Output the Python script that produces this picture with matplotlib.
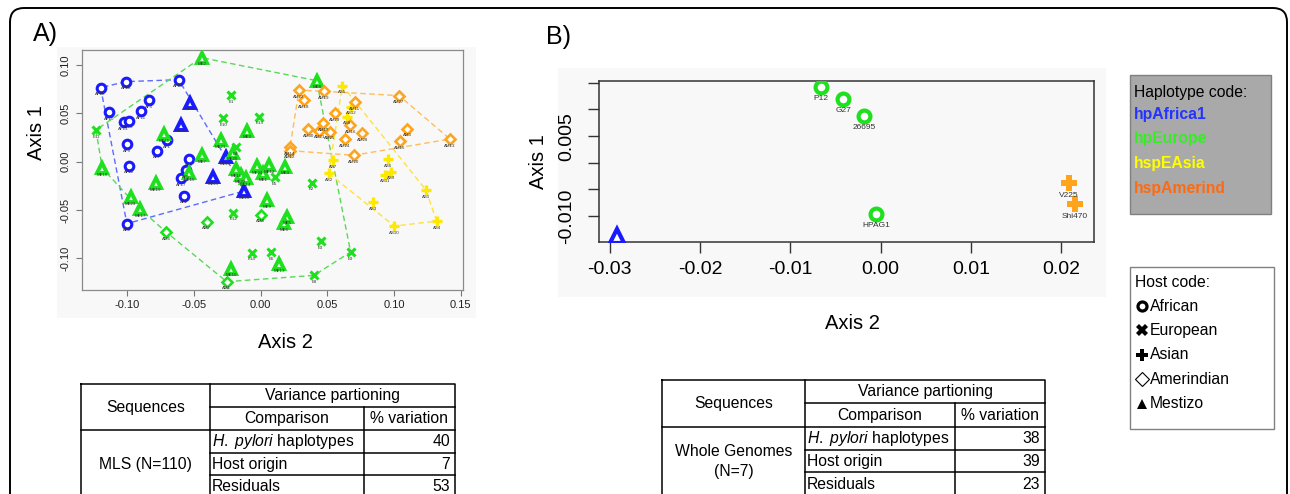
import matplotlib
matplotlib.use("Agg")
import matplotlib.pyplot as plt
from matplotlib.patches import FancyBboxPatch, Rectangle

plt.rcParams["font.family"] = ["Liberation Sans", "DejaVu Sans"]
plt.rcParams["mathtext.fontset"] = "custom"
plt.rcParams["mathtext.it"] = "Liberation Sans:italic"
plt.rcParams["mathtext.rm"] = "Liberation Sans"

W, H = 1290, 494

# ---- panel A: MLS data, (label, axis 2, axis 1) ----
AFRICA1_AFRICAN = [
    ("AF16", -0.1200, 0.0766), ("AF18", -0.1008, 0.0828), ("AF19", -0.0615, 0.0848),
    ("AF10", -0.1138, 0.0510), ("AF3", -0.0840, 0.0634), ("AF11", -0.0895, 0.0524),
    ("AF13", -0.1028, 0.0407), ("AF15", -0.0990, 0.0424), ("AF9", -0.1005, 0.0179),
    ("AF1", -0.0705, 0.0224), ("AF7", -0.0775, 0.0114), ("AF12", -0.0985, -0.0041),
    ("AF8", -0.0540, 0.0031), ("AF5", -0.0558, -0.0090), ("AF17", -0.0598, -0.0169),
    ("AF2", -0.0573, -0.0352), ("AF6", -0.1003, -0.0641),
]
AFRICA1_MESTIZO = [
    ("ME30", -0.0528, 0.0610), ("ME28", -0.0600, 0.0383), ("ME27", -0.0263, 0.0045),
    ("ME29", -0.0355, -0.0159), ("ME26", -0.0123, -0.0303),
]
EUROPE_MESTIZO = [
    ("ME2", -0.0443, 0.1076), ("ME8", 0.0420, 0.0838), ("ME11", -0.0723, 0.0286),
    ("ME21", -0.0300, 0.0224), ("ME3", -0.0103, 0.0321), ("ME20", -0.0210, 0.0093),
    ("ME7", -0.0443, 0.0069), ("ME18", -0.1188, -0.0066), ("ME19", -0.0788, -0.0224),
    ("ME23", -0.0975, -0.0369), ("ME17", -0.0905, -0.0490), ("ME16", -0.0185, -0.0079),
    ("ME22", -0.0150, -0.0138), ("ME14", -0.0113, -0.0172), ("ME15", -0.0538, -0.0117),
    ("ME24", -0.0028, -0.0045), ("ME1", 0.0020, -0.0121), ("ME12", 0.0063, -0.0038),
    ("ME4", 0.0185, -0.0052), ("ME9", 0.0048, -0.0400), ("ME5", 0.0195, -0.0569),
    ("ME6", 0.0178, -0.0638), ("ME13", 0.0140, -0.1059), ("ME10", -0.0223, -0.1107),
]
EUROPE_EUROPEAN = [
    ("E11", -0.1235, 0.0328), ("E1", -0.0220, 0.0686), ("E13", -0.0010, 0.0466),
    ("E10", -0.0280, 0.0452), ("E4", -0.0188, 0.0152), ("E5", 0.0105, -0.0162),
    ("E2", 0.0383, -0.0217), ("E12", -0.0205, -0.0528), ("E3", 0.0450, -0.0821),
    ("E14", -0.0065, -0.0941), ("E6", 0.0078, -0.0934), ("E9", 0.0675, -0.0934),
    ("E8", 0.0400, -0.1176),
]
EUROPE_AMERINDIAN = [
    ("AM7", -0.0403, -0.0621), ("AM6", -0.0708, -0.0728),
    ("AM8", 0.0000, -0.0548), ("AM1", -0.0255, -0.1241),
]
EASIA_ASIAN = [
    ("AS5", 0.0613, 0.0786), ("AS12", 0.0678, 0.0569), ("AS8", 0.0650, 0.0466),
    ("AS7", 0.0545, 0.0017), ("AS2", 0.0510, -0.0121), ("AS6", 0.0958, 0.0028),
    ("AS9", 0.0975, -0.0103), ("AS11", 0.0933, -0.0134), ("AS1", 0.1240, -0.0293),
    ("AS3", 0.0845, -0.0421), ("AS10", 0.1003, -0.0666), ("AS4", 0.1320, -0.0614),
]
AMERIND_AMERINDIAN = [
    ("AM22", 0.0288, 0.0741), ("AM18", 0.0325, 0.0638), ("AM19", 0.0473, 0.0728),
    ("AM27", 0.1038, 0.0683), ("AM11", 0.0708, 0.0614), ("AM29", 0.0558, 0.0500),
    ("AM17", 0.0470, 0.0397), ("AM16", 0.0673, 0.0376), ("AM30", 0.0358, 0.0334),
    ("AM21", 0.0440, 0.0321), ("AM25", 0.0520, 0.0310), ("AM28", 0.0763, 0.0293),
    ("AM24", 0.0630, 0.0231), ("AM3", 0.1098, 0.0341), ("AM15", 0.1045, 0.0210),
    ("AM13", 0.1420, 0.0234), ("AM14", 0.0220, 0.0148), ("AM12", 0.0220, 0.0114),
    ("AM20", 0.0698, 0.0066),
]

# ---- panel B: whole genomes ----
GENOME_EUROPE = [("P12", -0.00664, 0.01429), ("G27", -0.00414, 0.01203),
                 ("26695", -0.00181, 0.00883), ("HPAG1", -0.00048, -0.00959)]
GENOME_AMERIND = [("V225", 0.02085, -0.00382), ("Shi470", 0.02152, -0.00782)]
GENOME_AFRICA1 = [("", -0.02916, -0.01387)]

A_XTICKS = [-0.10, -0.05, 0.00, 0.05, 0.10, 0.15]
A_YTICKS = [-0.10, -0.05, 0.00, 0.05, 0.10]
B_XTICKS = [-0.03, -0.02, -0.01, 0.00, 0.01, 0.02]
B_YTICKS = [0.015, 0.010, 0.005, 0.000, -0.005, -0.010]
B_YTICK_LABELS = ["", "", "0.005", "", "", "-0.010"]

# ---- tables ----
TABLE_COMPARISONS = [r"$\mathit{H.\ pylori}$ haplotypes", "Host origin", "Residuals"]
MLS_VARIATION = [40, 7, 53]
GENOME_VARIATION = [38, 39, 23]

HAPLOTYPES = ["hpAfrica1", "hpEurope", "hspEAsia", "hspAmerind"]
HOSTS = ["African", "European", "Asian", "Amerindian", "Mestizo"]

BLUE, GREEN, YELLOW, ORANGE = "#1a1aff", "#1ee01e", "#ffe800", "#ffa41c"
HULL = {BLUE: "#5c6cff", GREEN: "#5ad85a", YELLOW: "#ffe23a", ORANGE: "#ffbd5c"}
LEGEND_COLORS = ["#2233ff", "#33ee22", "#ffff00", "#ff6a10"]


def convex_hull(points):
    pts = sorted(set(points))

    def cross(o, a, b):
        return (a[0] - o[0]) * (b[1] - o[1]) - (a[1] - o[1]) * (b[0] - o[0])

    lower, upper = [], []
    for p in pts:
        while len(lower) >= 2 and cross(lower[-2], lower[-1], p) <= 0:
            lower.pop()
        lower.append(p)
    for p in reversed(pts):
        while len(upper) >= 2 and cross(upper[-2], upper[-1], p) <= 0:
            upper.pop()
        upper.append(p)
    return lower[:-1] + upper[:-1]


def draw_hull(ax, groups, color):
    pts = [(x, y) for g in groups for _, x, y in g]
    hull = convex_hull(pts)
    hull.append(hull[0])
    ax.plot([p[0] for p in hull], [p[1] for p in hull], ls=(0, (4, 2.5)),
            lw=1.0, color=HULL[color], zorder=2)


def draw_points(ax, group, color, style, lab_size, lab_off):
    xs = [x for _, x, _ in group]
    ys = [y for _, _, y in group]
    ax.plot(xs, ys, ls="none", color=color, mec=color, zorder=3, **style)
    for lab, x, y in group:
        if lab:
            ax.annotate(lab, (x, y), xytext=(0, -lab_off), textcoords="offset points",
                        ha="center", va="center", fontsize=lab_size, color="#333333",
                        zorder=4)


fig = plt.figure(figsize=(W / 100, H / 100), dpi=100)
canvas = fig.add_axes([0, 0, 1, 1], zorder=0)
canvas.set_xlim(0, W)
canvas.set_ylim(H, 0)
canvas.axis("off")


def px_axes(left, top, right, bottom):
    return fig.add_axes([left / W, 1 - bottom / H, (right - left) / W, (bottom - top) / H],
                        zorder=1)


# outer frame and light plot backgrounds
canvas.add_patch(FancyBboxPatch((10, 8), 1277, 540, boxstyle="round,pad=0,rounding_size=14",
                                fc="white", ec="black", lw=1.4))
canvas.add_patch(Rectangle((57, 47), 419, 271, fc="#f8f8f8", ec="none"))
canvas.add_patch(Rectangle((558, 68), 548, 229, fc="#f8f8f8", ec="none"))

# ---------------- panel A ----------------
axA = px_axes(81.7, 50, 463.3, 290)
axA.set_facecolor("#f8f8f8")
axA.set_xlim(-0.1342, 0.152)
axA.set_ylim(-0.1327, 0.1155)

SMALL = dict(circle=dict(marker="o", ms=6.2, mew=2.2, mfc="white"),
             tri=dict(marker="^", ms=6.6, mew=2.8, mfc="#e8ffe8"),
             cross=dict(marker="x", ms=5.2, mew=2.2),
             plus=dict(marker="+", ms=7.5, mew=2.4),
             diamond=dict(marker="D", ms=5.0, mew=1.9, mfc="white"))

draw_hull(axA, [AFRICA1_AFRICAN, AFRICA1_MESTIZO], BLUE)
draw_hull(axA, [EUROPE_MESTIZO, EUROPE_EUROPEAN, EUROPE_AMERINDIAN], GREEN)
draw_hull(axA, [EASIA_ASIAN], YELLOW)
draw_hull(axA, [AMERIND_AMERINDIAN], ORANGE)

for group, color, style in [
    (AFRICA1_AFRICAN, BLUE, "circle"), (AFRICA1_MESTIZO, BLUE, "tri"),
    (EUROPE_MESTIZO, GREEN, "tri"), (EUROPE_EUROPEAN, GREEN, "cross"),
    (EUROPE_AMERINDIAN, GREEN, "diamond"), (EASIA_ASIAN, YELLOW, "plus"),
    (AMERIND_AMERINDIAN, ORANGE, "diamond"),
]:
    draw_points(axA, group, color, SMALL[style], 3.2, 4.8)

axA.set_xticks(A_XTICKS)
axA.set_xticklabels([f"{t:.2f}" for t in A_XTICKS])
axA.set_yticks(A_YTICKS)
axA.set_yticklabels([f"{t:.2f}" for t in A_YTICKS], rotation=90, va="center")
axA.tick_params(length=4.5, width=0.8, color="#777777", labelsize=8, labelcolor="#222222",
                pad=3)
axA.tick_params(axis="y", pad=3.5)
for sp in axA.spines.values():
    sp.set_color("#8a8a8a")
    sp.set_linewidth(0.9)

# ---------------- panel B ----------------
axB = px_axes(598.5, 80.7, 1094, 241.7)
axB.set_facecolor("#f8f8f8")
axB.set_xlim(-0.03125, 0.02362)
axB.set_ylim(-0.01485, 0.01541)

BIG = dict(circle=dict(marker="o", ms=8.5, mew=3.0, mfc="white"),
           tri=dict(marker="^", ms=10, mew=3.0, mfc="white"),
           plus=dict(marker="P", ms=11, mew=0))

draw_points(axB, GENOME_EUROPE, GREEN, BIG["circle"], 6, 8.8)
draw_points(axB, GENOME_AMERIND, ORANGE, BIG["plus"], 6, 8.8)
draw_points(axB, GENOME_AFRICA1, BLUE, BIG["tri"], 6, 8.8)

axB.set_xticks(B_XTICKS)
axB.set_xticklabels([f"{t:.2f}" for t in B_XTICKS])
axB.tick_params(axis="x", length=8, width=1, color="#333333", labelsize=14, pad=6)
axB.set_yticks(B_YTICKS)
axB.set_yticklabels(B_YTICK_LABELS, rotation=90, va="center")
axB.tick_params(axis="y", length=8, width=1, color="#333333", labelsize=14, pad=9)
for sp in axB.spines.values():
    sp.set_color("#333333")
    sp.set_linewidth(1.1)

# ---------------- titles and axis labels ----------------
canvas.text(45, 34, "A)", fontsize=18, ha="center", va="center")
canvas.text(558, 37, "B)", fontsize=18, ha="center", va="center")
canvas.text(36, 133, "Axis 1", fontsize=14.5, rotation=90, ha="center", va="center")
canvas.text(285, 342, "Axis 2", fontsize=14.5, ha="center", va="center")
canvas.text(538, 162, "Axis 1", fontsize=14.5, rotation=90, ha="center", va="center")
canvas.text(852, 323, "Axis 2", fontsize=14.5, ha="center", va="center")

# ---------------- legends ----------------
canvas.add_patch(Rectangle((1130, 75), 141, 139, fc="#a9a9a9", ec="#808080", lw=1))
canvas.text(1134, 92, "Haplotype code:", fontsize=11.3, va="center")
for i, (name, col) in enumerate(zip(HAPLOTYPES, LEGEND_COLORS)):
    canvas.text(1134, 114 + i * 24.7, name, fontsize=11.3, fontweight="bold",
                color=col, va="center")

canvas.add_patch(Rectangle((1130, 267), 144, 162, fc="white", ec="#808080", lw=1))
canvas.text(1135, 282, "Host code:", fontsize=11.3, va="center")
HOST_MARKERS = [dict(marker="o", ms=6.5, mfc="white", mec="black", mew=2.3),
                dict(marker="X", ms=8, color="black", mew=0),
                dict(marker="P", ms=8.5, color="black", mew=0),
                dict(marker="D", ms=7, mfc="white", mec="black", mew=0.8),
                dict(marker="^", ms=7, color="black", mew=0)]
for i, (name, mk) in enumerate(zip(HOSTS, HOST_MARKERS)):
    y = 306 + i * 24.4
    canvas.plot(1142, y, ls="none", **mk)
    canvas.text(1150, y, name, fontsize=11.3, va="center")


# ---------------- tables ----------------
def draw_table(cols, rows, seq_lines, values):
    lw = 1.1
    c0, c1, c2, c3 = cols
    top, bottom = rows[0], rows[-1]
    kw = dict(color="black", lw=lw)
    canvas.plot([c0, c3, c3, c0, c0], [top, top, bottom, bottom, top], **kw)
    canvas.plot([c1, c1], [top, bottom], **kw)
    canvas.plot([c2, c2], [rows[1], bottom], **kw)
    canvas.plot([c1, c3], [rows[1], rows[1]], **kw)
    canvas.plot([c0, c3], [rows[2], rows[2]], **kw)
    for r in rows[3:-1]:
        canvas.plot([c1, c3], [r, r], **kw)
    fs = 11.3
    canvas.text((c0 + c1) / 2, (rows[0] + rows[2]) / 2, "Sequences", fontsize=fs,
                ha="center", va="center")
    canvas.text((c1 + c3) / 2, (rows[0] + rows[1]) / 2, "Variance partioning",
                fontsize=fs, ha="center", va="center")
    canvas.text((c1 + c2) / 2, (rows[1] + rows[2]) / 2, "Comparison", fontsize=fs,
                ha="center", va="center")
    canvas.text((c2 + c3) / 2, (rows[1] + rows[2]) / 2, "% variation", fontsize=fs,
                ha="center", va="center")
    mid = (rows[2] + rows[-1]) / 2
    n = len(seq_lines)
    for k, line in enumerate(seq_lines):
        canvas.text((c0 + c1) / 2, mid + (k - (n - 1) / 2) * 20, line, fontsize=fs,
                    ha="center", va="center")
    for k, (comp, val) in enumerate(zip(TABLE_COMPARISONS, values)):
        yc = (rows[2 + k] + rows[3 + k]) / 2
        canvas.text(c1 + 2, yc, comp, fontsize=fs, ha="left", va="center")
        canvas.text(c3 - 5, yc, str(val), fontsize=fs, ha="right", va="center")


draw_table([81, 210, 364, 455], [384, 407, 430, 453, 475, 498],
           ["MLS (N=110)"], MLS_VARIATION)
draw_table([662, 805, 955, 1045], [380, 403, 427, 450, 472, 496],
           ["Whole Genomes", "(N=7)"], GENOME_VARIATION)

fig.savefig("out.png", dpi=100)
